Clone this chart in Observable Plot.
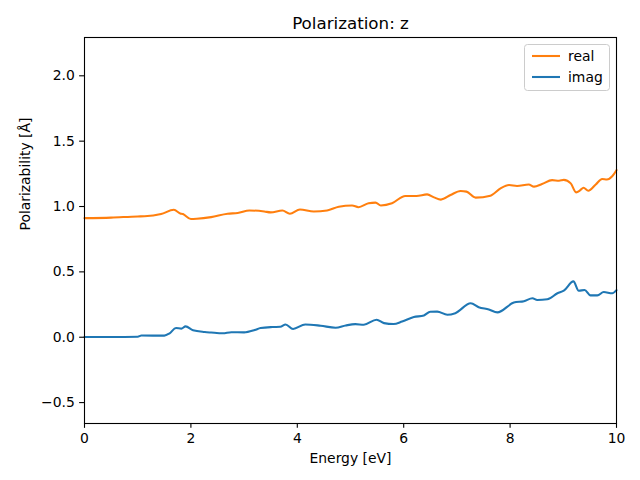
<!DOCTYPE html>
<html>
<head>
<meta charset="utf-8">
<script src="https://cdn.jsdelivr.net/npm/d3@7"></script>
<script src="https://cdn.jsdelivr.net/npm/@observablehq/plot@0.6"></script>
<style>
  body { margin: 0; background: #fff; }
</style>
</head>
<body>
<div id="chart"></div>
<script>
const realEnergy = [0, 0.5, 1.0, 1.13, 1.44, 1.68, 1.8, 1.85, 2.0, 2.11, 2.38, 2.69, 2.88, 3.1, 3.38, 3.5, 3.72, 3.86, 4.05, 4.31, 4.56, 4.78, 5.03, 5.15, 5.34, 5.47, 5.57, 5.78, 6.03, 6.24, 6.44, 6.57, 6.7, 6.88, 7.07, 7.18, 7.35, 7.63, 7.82, 7.98, 8.13, 8.35, 8.45, 8.6, 8.79, 8.92, 9.01, 9.14, 9.24, 9.32, 9.38, 9.47, 9.61, 9.73, 9.82, 9.92, 10];
const realValues = [0.911, 0.915, 0.924, 0.925, 0.942, 0.975, 0.947, 0.942, 0.904, 0.906, 0.919, 0.945, 0.95, 0.97, 0.962, 0.955, 0.97, 0.945, 0.977, 0.962, 0.97, 0.998, 1.008, 0.995, 1.025, 1.03, 1.008, 1.025, 1.081, 1.081, 1.093, 1.07, 1.053, 1.088, 1.119, 1.114, 1.068, 1.083, 1.139, 1.164, 1.157, 1.169, 1.152, 1.172, 1.202, 1.197, 1.204, 1.177, 1.108, 1.125, 1.144, 1.121, 1.169, 1.21, 1.207, 1.232, 1.278];

const imagEnergy = [0, 0.5, 1.0, 1.07, 1.5, 1.6, 1.72, 1.82, 1.9, 2.04, 2.26, 2.38, 2.6, 2.76, 3.0, 3.2, 3.31, 3.53, 3.68, 3.78, 3.92, 4.15, 4.44, 4.72, 4.91, 5.09, 5.25, 5.49, 5.63, 5.81, 5.97, 6.19, 6.38, 6.5, 6.63, 6.82, 6.97, 7.26, 7.41, 7.6, 7.76, 8.07, 8.26, 8.42, 8.51, 8.7, 8.89, 9.01, 9.19, 9.29, 9.4, 9.51, 9.64, 9.76, 9.92, 10];
const imagValues = [0.002, 0.002, 0.004, 0.013, 0.012, 0.03, 0.07, 0.066, 0.083, 0.053, 0.04, 0.036, 0.03, 0.038, 0.037, 0.055, 0.07, 0.078, 0.08, 0.098, 0.063, 0.098, 0.088, 0.073, 0.09, 0.1, 0.096, 0.134, 0.108, 0.101, 0.12, 0.154, 0.167, 0.195, 0.196, 0.172, 0.184, 0.26, 0.23, 0.212, 0.19, 0.265, 0.276, 0.298, 0.285, 0.29, 0.336, 0.356, 0.427, 0.356, 0.361, 0.32, 0.32, 0.346, 0.336, 0.36];

const xTicks = [0, 2, 4, 6, 8, 10];
const yTicks = [-0.5, 0, 0.5, 1.0, 1.5, 2.0];
const seriesNames = ["real", "imag"];
const seriesColors = ["#ff7f0e", "#1f77b4"];
const titleText = "Polarization: z";
const xLabel = "Energy [eV]";
const yLabel = "Polarizability [Å]";

const realData = realEnergy.map((e, i) => ({x: e, y: realValues[i]}));
const imagData = imagEnergy.map((e, i) => ({x: e, y: imagValues[i]}));

const fontFamily = "DejaVu Sans";
const tickFont = 13.9;

const svg = Plot.plot({
  width: 640,
  height: 480,
  marginLeft: 84,
  marginRight: 24,
  marginTop: 37,
  marginBottom: 57,
  style: {fontFamily, fontSize: tickFont + "px", background: "#fff", color: "#000"},
  x: {domain: [0, 10]},
  y: {domain: [-0.660, 2.293]},
  marks: [
    Plot.line(realData, {x: "x", y: "y", stroke: seriesColors[0], strokeWidth: 2.08, curve: "monotone-x"}),
    Plot.line(imagData, {x: "x", y: "y", stroke: seriesColors[1], strokeWidth: 2.08, curve: "monotone-x"}),
    Plot.frame({stroke: "#000", strokeWidth: 1.1}),
    Plot.axisX({ticks: xTicks, tickSize: 4.86, tickPadding: 4.86, tickFormat: d3.format("d"), label: null, fontSize: tickFont, strokeWidth: 1.1}),
    Plot.axisY({ticks: yTicks, tickSize: 4.86, tickPadding: 4.86, tickFormat: d => d.toFixed(1).replace("-", "\u2212"), label: null, fontSize: tickFont, strokeWidth: 1.1}),
    Plot.text([titleText], {frameAnchor: "top", lineAnchor: "middle", dy: -14, fontSize: 16.7, fill: "#000"}),
    Plot.text([xLabel], {frameAnchor: "bottom", lineAnchor: "middle", dy: 35, fontSize: tickFont, fill: "#000"}),
    Plot.text([yLabel], {frameAnchor: "left", lineAnchor: "middle", dx: -59, rotate: -90, fontSize: tickFont, fill: "#000"})
  ]
});

// Legend box (upper right, matplotlib style)
const s = d3.select(svg);
const lg = s.append("g").attr("font-family", fontFamily).attr("font-size", tickFont + "px").attr("text-anchor", "start");
lg.append("rect").attr("x", 524.5).attr("y", 44.5).attr("width", 85).attr("height", 46)
  .attr("rx", 3).attr("fill", "#fff").attr("fill-opacity", 0.8).attr("stroke", "#cccccc").attr("stroke-width", 1);
seriesNames.forEach((name, i) => {
  const yy = 56 + i * 21;
  lg.append("line").attr("x1", 532).attr("x2", 560).attr("y1", yy).attr("y2", yy)
    .attr("stroke", seriesColors[i]).attr("stroke-width", 2.08);
  lg.append("text").attr("x", 568).attr("y", yy).attr("dy", "0.35em").attr("text-anchor", "start").attr("fill", "#000").text(name);
});

document.getElementById("chart").appendChild(svg);
</script>
</body>
</html>
